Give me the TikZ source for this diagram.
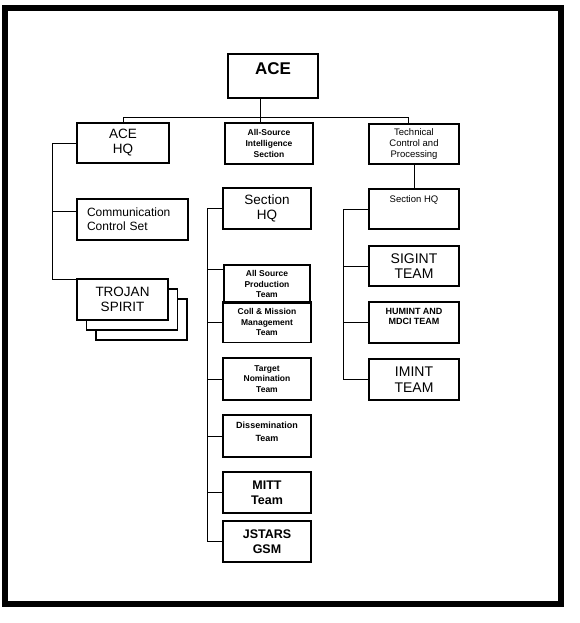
\documentclass[tikz,border=0pt]{standalone}
\usepackage{fontspec}
\setmainfont{Liberation Sans}
\usetikzlibrary{positioning, shadows}

\begin{document}
\begin{tikzpicture}[
  x=1pt, y=-1pt,
  unitbox/.style={draw, line width=1.1pt, outer sep=0pt, inner sep=2pt, align=center, minimum width=90pt, minimum height=41pt},
  bigtext/.style={font=\fontsize{13.5pt}{15pt}\selectfont},
  boldtext/.style={font=\fontsize{12.5pt}{15pt}\selectfont\bfseries},
  teamtext/.style={font=\fontsize{14pt}{15.5pt}\selectfont},
  midtext/.style={font=\fontsize{9.5pt}{11pt}\selectfont},
  finetext/.style={font=\fontsize{8.5pt}{10.6pt}\selectfont\bfseries},
  link/.style={line width=1pt}
]
\useasboundingbox (0,0) rectangle (580,623);
% Frame
\draw[line width=6pt] (5,8) rectangle (561,604);

% Top
\node[unitbox, minimum height=44pt, font=\fontsize{17pt}{19pt}\selectfont\bfseries, text depth=15pt] (ace) at (273,76) {ACE};

% Column heads
\node[unitbox, bigtext, minimum width=92pt, minimum height=40pt] (acehq) at (123,143) {ACE\\HQ};
\node[unitbox, finetext, minimum width=88pt] (asis) at (269,143.5) {All-Source\\Intelligence\\Section};
\node[unitbox, midtext, minimum height=40pt] (tcp) at (414,144) {Technical\\Control and\\Processing};

% ACE HQ branch
\node[unitbox, font=\fontsize{12pt}{14pt}\selectfont, align=left, inner xsep=10pt, text width=91pt, below=36pt of acehq.south west, anchor=north west] (ccs) {Communication\\Control Set};
\node[unitbox, bigtext, fill=white, minimum width=91pt,
  copy shadow={shadow xshift=19pt, shadow yshift=-20pt},
  copy shadow={shadow xshift=9.5pt, shadow yshift=-10pt},
  below=39pt of ccs.south west, anchor=north west] (troj) {TROJAN\\SPIRIT};

% All-Source branch
\node[unitbox, bigtext, minimum width=88pt] (sechq) at (267,208.5) {Section\\HQ};
\node[unitbox, finetext, minimum width=86pt, minimum height=38pt, below=36pt of sechq] (prod) {All Source\\Production\\Team};
\node[unitbox, finetext, minimum width=88pt, below=-1.5pt of prod] (coll) {Coll \& Mission\\Management\\Team};
\node[unitbox, finetext, minimum width=88pt, minimum height=42pt, below=15.5pt of coll] (target) {Target\\Nomination\\Team};
\node[unitbox, font=\fontsize{9pt}{12.5pt}\selectfont\bfseries, minimum width=88pt, minimum height=42pt, text depth=9pt, below=15pt of target] (dissem) {Dissemination\\Team};
\node[unitbox, boldtext, minimum width=88pt, below=15pt of dissem] (mitt) {MITT\\Team};
\node[unitbox, boldtext, minimum width=88pt, below=8pt of mitt] (jstars) {JSTARS\\GSM};

% Technical branch
\node[unitbox, midtext, minimum height=40pt, text depth=20pt, below=25pt of tcp] (tcphq) {Section HQ};
\node[unitbox, teamtext, minimum height=40pt, below=17pt of tcphq] (sigint) {SIGINT\\TEAM};
\node[unitbox, font=\fontsize{9pt}{10.7pt}\selectfont\bfseries, text depth=12pt, below=16pt of sigint] (humint) {HUMINT AND\\MDCI TEAM};
\node[unitbox, teamtext, below=16pt of humint] (imint) {IMINT\\TEAM};

% Buses
\coordinate (topbus) at (260,118);
\coordinate (tcpdrop) at (408,118);
\coordinate (lbus) at (52,0);
\coordinate (mbus) at (207,0);
\coordinate (rbus) at (343,0);
\coordinate (ccsin) at ([yshift=8pt]ccs.west);
\coordinate (prodin) at ([yshift=-4pt]prod.north west);

\draw[link] (ace.south -| topbus) -- (asis.north -| topbus);
\draw[link] (acehq.north) |- (tcpdrop) -- (tcp.north -| tcpdrop);
\draw[link] (tcp.south) -- (tcp.south |- tcphq.north);

\draw[link] (acehq.west) -| (lbus |- troj.north west) -- (troj.north west);
\draw[link] (ccsin) -- (ccsin -| lbus);

\draw[link] (sechq.west) -| (mbus |- jstars.west) -- (jstars.west);
\draw[link] (prodin) -- (prodin -| mbus);
\foreach \n in {coll,target,dissem,mitt}
  \draw[link] (\n.west) -- (\n.west -| mbus);

\draw[link] (tcphq.west) -| (rbus |- imint.west) -- (imint.west);
\foreach \n in {sigint,humint}
  \draw[link] (\n.west) -- (\n.west -| rbus);

\end{tikzpicture}
\end{document}
